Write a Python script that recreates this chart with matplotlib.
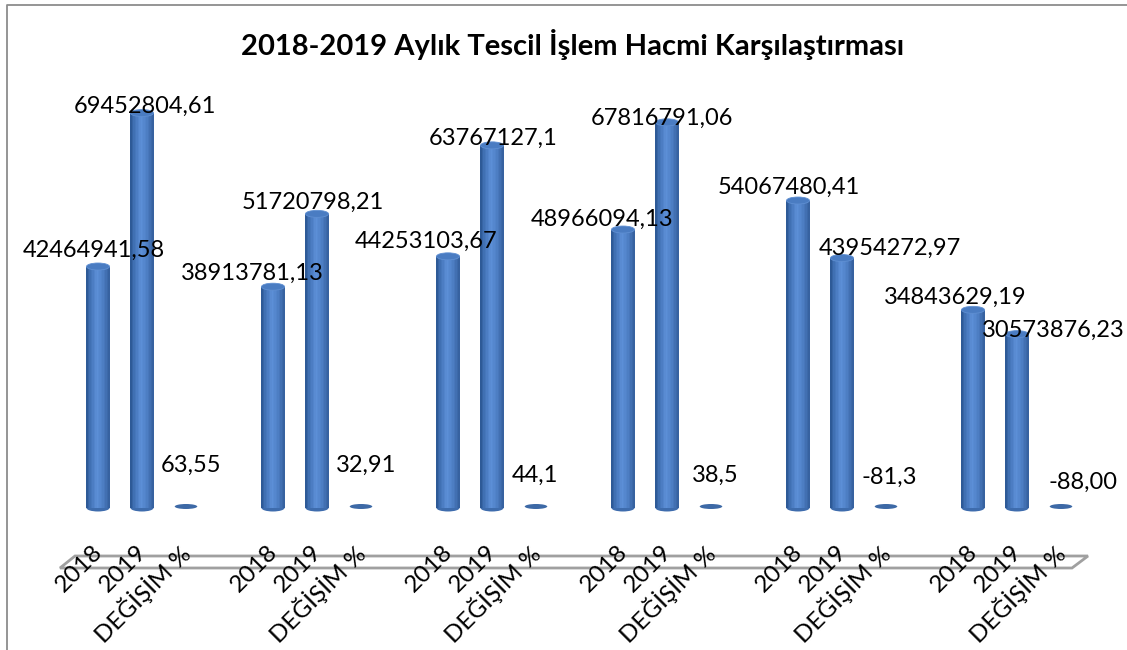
import numpy as np
import matplotlib
matplotlib.use('Agg')
import matplotlib.pyplot as plt
from matplotlib.patches import Ellipse, Polygon
from matplotlib.transforms import Affine2D
from matplotlib.colors import to_rgb

plt.rcParams['font.family'] = ['Lato', 'DejaVu Sans']

# ---------------- data ----------------
title = '2018-2019 Aylık Tescil İşlem Hacmi Karşılaştırması'
categories = ['2018', '2019', 'DEĞİŞİM %']
values_2018 = [42464941.58, 38913781.13, 44253103.67, 48966094.13, 54067480.41, 34843629.19]
values_2019 = [69452804.61, 51720798.21, 63767127.1, 67816791.06, 43954272.97, 30573876.23]
values_change = [63.55, 32.91, 44.1, 38.5, -81.3, -88.00]
labels_2018 = ['42464941,58', '38913781,13', '44253103,67', '48966094,13', '54067480,41', '34843629,19']
labels_2019 = ['69452804,61', '51720798,21', '63767127,1', '67816791,06', '43954272,97', '30573876,23']
labels_change = ['63,55', '32,91', '44,1', '38,5', '-81,3', '-88,00']

# ---------------- style ----------------
W, H = 1127, 650
PX_PER_SLOT = 44.0          # pixel distance between neighbouring bars
GROUP_STEP = 175.0 / 44.0   # slot distance between groups
X0_PX = 98.0                # pixel x of the first bar
BASE_PX = 508.0             # pixel y of value 0
PX_PER_UNIT = 5.687e-6      # pixels per unit value
BAR_W = 23.0 / PX_PER_SLOT
TOP_H = 7.0 / PX_PER_UNIT
DISC_H = 5.0 / PX_PER_UNIT
FS = 17.0
FS_TICK = 17.5

# label offsets (pixels; dx right, dy up-negative as in image)
off_2018 = [(-4, -16), (-21, -13), (-22, -15), (-21, -10), (-9, -13), (-18, -13)]
off_2019 = [(3, -7), (-4, -12), (1, -7), (-5, -4), (48, -10), (36, -4)]
off_change = [(5, -43), (5, -43), (-1, -33), (4, -33), (3, -31), (22, -26)]

fig = plt.figure(figsize=(W / 100, H / 100), dpi=100)
fig.patch.set_facecolor('white')
ax = fig.add_axes([0, 0, 1, 1])
ax.set_xlim(-X0_PX / PX_PER_SLOT, (W - X0_PX) / PX_PER_SLOT)
ax.set_ylim((BASE_PX - H) / PX_PER_UNIT, BASE_PX / PX_PER_UNIT)
ax.axis('off')

# pixel transform (origin top-left)
pix = Affine2D().scale(1.0 / W, -1.0 / H).translate(0, 1) + fig.transFigure

# chart frame (partially visible)
ax.plot([7, 7, W], [H, 5, 5], color='#8c8c8c', lw=1.3, transform=pix, clip_on=False, zorder=0)

# floor slab
floor = Polygon([[75, 556], [1088, 556], [1072, 568], [60, 568]], closed=True,
                facecolor='white', edgecolor='#a0a0a0', lw=2.0, transform=pix, zorder=1)
ax.add_patch(floor)

# gradient profile for cylinders
prof_pos = [0.0, 0.15, 0.45, 0.7, 1.0]
prof_col = np.array([to_rgb(c) for c in ['#2a5590', '#3f6fb2', '#5d90d8', '#4f80c6', '#345f9c']])
NSTRIP = 16


def cylinder(xc, val, z):
    edges = np.linspace(xc - BAR_W / 2, xc + BAR_W / 2, NSTRIP + 1)
    mids = (edges[:-1] + edges[1:]) / 2
    t = (mids - edges[0]) / BAR_W
    cols = np.stack([np.interp(t, prof_pos, prof_col[:, k]) for k in range(3)], axis=1)
    ax.add_patch(Ellipse((xc, 0), BAR_W, TOP_H, facecolor='#3e6cad', edgecolor='none', zorder=z))
    ax.bar(mids, [val] * NSTRIP, width=BAR_W / NSTRIP * 1.02, color=cols, linewidth=0, zorder=z + 0.1)
    ax.add_patch(Ellipse((xc, val), BAR_W, TOP_H, facecolor='#4a7cc2', edgecolor='#5f8fd2',
                         lw=0.6, zorder=z + 0.2))


def disc(xc, val, z):
    ax.add_patch(Ellipse((xc, val + 1.5 / PX_PER_UNIT), BAR_W * 0.98, DISC_H,
                         facecolor='#3d69a6', edgecolor='none', zorder=z))


series = [(values_2018, labels_2018, off_2018),
          (values_2019, labels_2019, off_2019),
          (values_change, labels_change, off_change)]

for g in range(len(values_2018)):
    for j, (vals, labs, offs) in enumerate(series):
        xc = g * GROUP_STEP + j
        v = vals[g]
        if j < 2:
            cylinder(xc, v, 3 + j)
        else:
            disc(xc, v, 3 + j)
        dx, dy = offs[g]
        ax.annotate(labs[g], (xc, v), xytext=(dx, -dy), textcoords='offset pixels',
                    ha='center', va='center', fontsize=FS, color='black', zorder=20)
        # category tick label
        ax.text(X0_PX + (g * GROUP_STEP + j) * PX_PER_SLOT + 1, 549, categories[j],
                rotation=45, rotation_mode='anchor', ha='right', va='center',
                fontsize=FS_TICK, color='black', transform=pix, zorder=20)

fig.text(573 / W, 1 - 45 / H, title, ha='center', va='center', fontsize=21,
         fontweight='bold', color='black')

fig.savefig('out.png', dpi=100, facecolor='white')
